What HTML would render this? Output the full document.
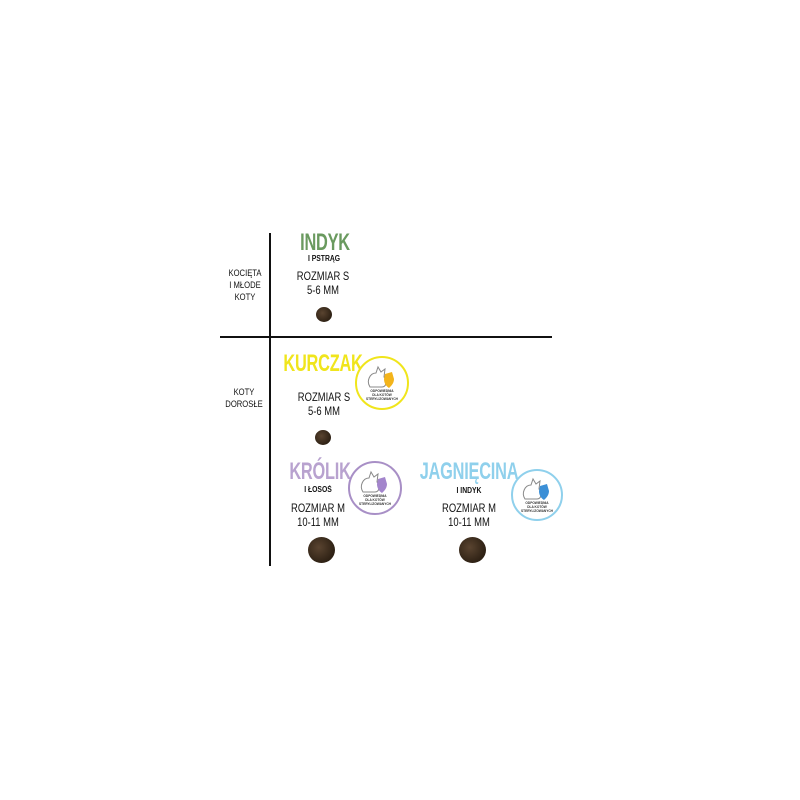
<!DOCTYPE html>
<html><head><meta charset="utf-8"><style>
html,body{margin:0;padding:0;background:#fff;}
body{width:800px;height:800px;position:relative;overflow:hidden;font-family:"Liberation Sans",sans-serif;}
.a{position:absolute;white-space:nowrap;text-align:center;transform:translateX(-50%);}
.h{font-weight:bold;font-size:24px;line-height:20px;letter-spacing:-0.3px;}
.h span{display:inline-block;transform:scaleX(0.68);}
.s{font-weight:bold;font-size:8px;color:#111;line-height:9px;}
.s span{display:inline-block;transform:scaleX(0.85);}
.r{font-size:11.5px;color:#111;line-height:13.5px;}
.r span{display:inline-block;transform:scaleX(0.82);}
.l{font-size:9px;color:#111;line-height:12px;}
.l span{display:inline-block;transform:scaleX(0.85);}
.p{position:absolute;border-radius:50%;background:radial-gradient(circle at 40% 40%,#5a4430,#2e2114 70%);}
</style></head><body>
<div style="position:absolute;left:269px;top:233px;width:2px;height:333px;background:#111"></div>
<div style="position:absolute;left:220px;top:336px;width:332px;height:2px;background:#111"></div>

<div class="a l" style="left:245px;top:267px"><span>KOCIĘTA<br>I MŁODE<br>KOTY</span></div>
<div class="a l" style="left:244px;top:386px"><span>KOTY<br>DOROSŁE</span></div>

<div class="a h" style="left:325px;top:233px;color:#6a9a5f"><span>INDYK</span></div>
<div class="a s" style="left:324px;top:254px"><span>I PSTRĄG</span></div>
<div class="a r" style="left:323px;top:271px"><span>ROZMIAR S<br>5-6 MM</span></div>
<div class="p" style="left:316px;top:307px;width:16px;height:15px"></div>

<div class="a h" style="left:323px;top:354px;color:#f0e51c"><span>KURCZAK</span></div>
<div class="a r" style="left:324px;top:392px"><span>ROZMIAR S<br>5-6 MM</span></div>
<div class="p" style="left:315px;top:430px;width:16px;height:15px"></div>

<div class="a h" style="left:320px;top:462px;color:#b8a2cf"><span>KRÓLIK</span></div>
<div class="a s" style="left:318px;top:485px"><span>I ŁOSOŚ</span></div>
<div class="a r" style="left:318px;top:503px"><span>ROZMIAR M<br>10-11 MM</span></div>
<div class="p" style="left:308px;top:537px;width:27px;height:26px"></div>

<div class="a h" style="left:469px;top:462px;color:#8fd0ec"><span>JAGNIĘCINA</span></div>
<div class="a s" style="left:469px;top:486px"><span>I INDYK</span></div>
<div class="a r" style="left:469px;top:503px"><span>ROZMIAR M<br>10-11 MM</span></div>
<div class="p" style="left:459px;top:537px;width:27px;height:26px"></div>

<svg width="800" height="800" style="position:absolute;left:0;top:0" font-family="Liberation Sans" font-weight="bold">
 <g transform="translate(382,383)">
  <circle r="26" fill="#fff" stroke="#f0e51c" stroke-width="2"/>
  <path d="M-12,4 C-16,-2 -12,-10 -6,-10 L-4,-16 L-1,-11 L3,-14 L2,-6 C6,-2 4,4 0,4 Z" fill="none" stroke="#888" stroke-width="1"/>
  <path d="M3,-9 L10,-11 L12,-4 C12,1 8,4 7,5 C4,3 2,0 2,-4Z" fill="#f3b41b"/>
  <text y="9" font-size="3.2" text-anchor="middle" fill="#333">ODPOWIEDNIA</text>
  <text y="13" font-size="3.2" text-anchor="middle" fill="#333">DLA KOTÓW</text>
  <text y="17" font-size="3.2" text-anchor="middle" fill="#333">STERYLIZOWANYCH</text>
 </g>
 <g transform="translate(375,488)">
  <circle r="26" fill="#fff" stroke="#a88fc6" stroke-width="2"/>
  <path d="M-12,4 C-16,-2 -12,-10 -6,-10 L-4,-16 L-1,-11 L3,-14 L2,-6 C6,-2 4,4 0,4 Z" fill="none" stroke="#888" stroke-width="1"/>
  <path d="M3,-9 L10,-11 L12,-4 C12,1 8,4 7,5 C4,3 2,0 2,-4Z" fill="#a385cc"/>
  <text y="9" font-size="3.2" text-anchor="middle" fill="#333">ODPOWIEDNIA</text>
  <text y="13" font-size="3.2" text-anchor="middle" fill="#333">DLA KOTÓW</text>
  <text y="17" font-size="3.2" text-anchor="middle" fill="#333">STERYLIZOWANYCH</text>
 </g>
 <g transform="translate(537,495)">
  <circle r="25" fill="#fff" stroke="#8fd0ec" stroke-width="2"/>
  <path d="M-12,4 C-16,-2 -12,-10 -6,-10 L-4,-16 L-1,-11 L3,-14 L2,-6 C6,-2 4,4 0,4 Z" fill="none" stroke="#888" stroke-width="1"/>
  <path d="M3,-9 L10,-11 L12,-4 C12,1 8,4 7,5 C4,3 2,0 2,-4Z" fill="#3b8fd6"/>
  <text y="9" font-size="3.2" text-anchor="middle" fill="#333">ODPOWIEDNIA</text>
  <text y="13" font-size="3.2" text-anchor="middle" fill="#333">DLA KOTÓW</text>
  <text y="17" font-size="3.2" text-anchor="middle" fill="#333">STERYLIZOWANYCH</text>
 </g>
</svg>
</body></html>
